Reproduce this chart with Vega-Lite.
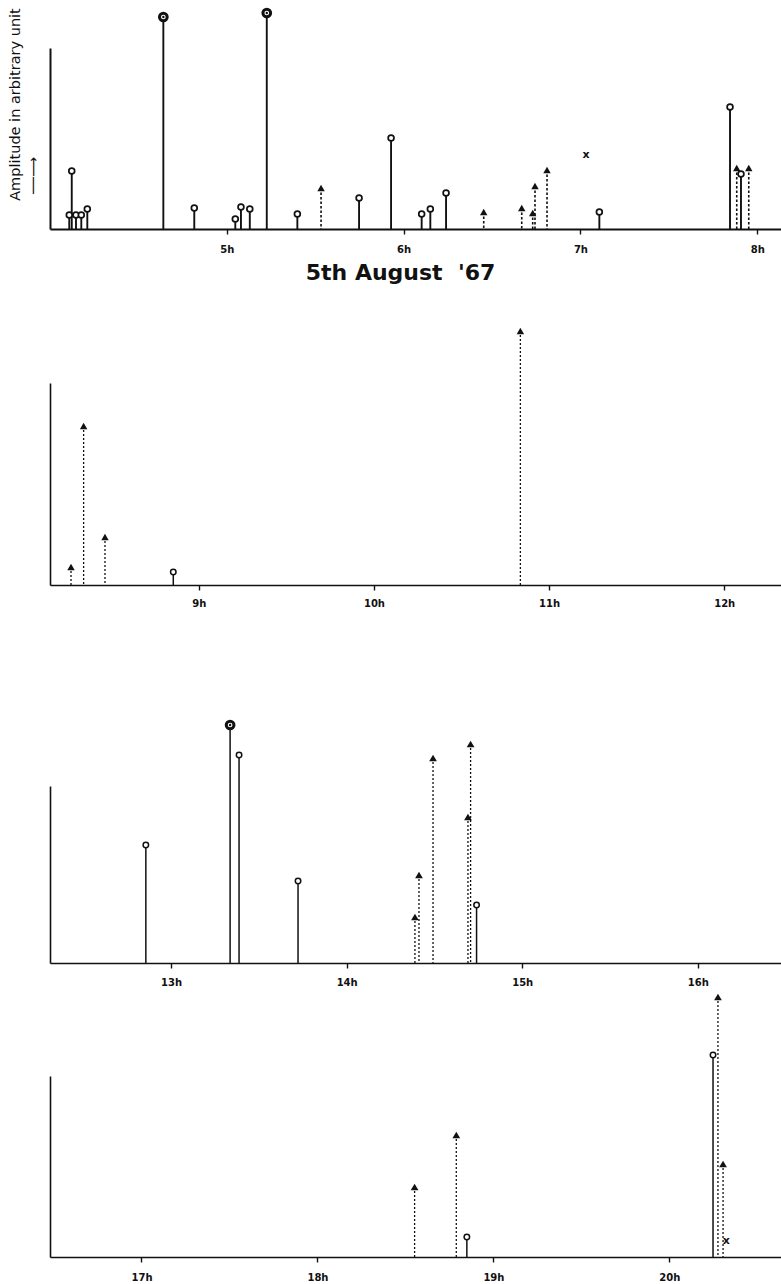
{
  "$schema": "https://vega.github.io/schema/vega-lite/v6.json",
  "background": "white",
  "padding": {"left": 6, "top": 3, "right": 0, "bottom": 0},
  "spacing": 30,
  "bounds": "flush",
  "config": {
    "view": {"stroke": null},
    "axis": {"domainColor": "#111", "tickColor": "#111", "labelColor": "#111", "titleColor": "#111", "grid": false, "domainWidth": 1.6, "tickWidth": 1.4, "tickSize": 5, "labelFont": "DejaVu Sans", "labelFontWeight": "bold", "labelFontSize": 10, "labelFlush": false, "labelOverlap": false}
  },
  "data": {"values": [
    {"panel": 1, "hour": 4.109, "amp": 14, "kind": "o"},
    {"panel": 1, "hour": 4.123, "amp": 58, "kind": "o"},
    {"panel": 1, "hour": 4.147, "amp": 14, "kind": "o"},
    {"panel": 1, "hour": 4.177, "amp": 14, "kind": "o"},
    {"panel": 1, "hour": 4.211, "amp": 20, "kind": "o"},
    {"panel": 1, "hour": 4.641, "amp": 212, "kind": "b"},
    {"panel": 1, "hour": 4.816, "amp": 21, "kind": "o"},
    {"panel": 1, "hour": 5.048, "amp": 10, "kind": "o"},
    {"panel": 1, "hour": 5.080, "amp": 22, "kind": "o"},
    {"panel": 1, "hour": 5.130, "amp": 20, "kind": "o"},
    {"panel": 1, "hour": 5.226, "amp": 216, "kind": "b"},
    {"panel": 1, "hour": 5.399, "amp": 15, "kind": "o"},
    {"panel": 1, "hour": 5.533, "amp": 41, "kind": "t"},
    {"panel": 1, "hour": 5.748, "amp": 31, "kind": "o"},
    {"panel": 1, "hour": 5.929, "amp": 91, "kind": "o"},
    {"panel": 1, "hour": 6.102, "amp": 15, "kind": "o"},
    {"panel": 1, "hour": 6.151, "amp": 20, "kind": "o"},
    {"panel": 1, "hour": 6.240, "amp": 36, "kind": "o"},
    {"panel": 1, "hour": 6.453, "amp": 17, "kind": "t"},
    {"panel": 1, "hour": 6.668, "amp": 21, "kind": "t"},
    {"panel": 1, "hour": 6.730, "amp": 16, "kind": "t"},
    {"panel": 1, "hour": 6.743, "amp": 43, "kind": "t"},
    {"panel": 1, "hour": 6.811, "amp": 59, "kind": "t"},
    {"panel": 1, "hour": 7.032, "amp": 74, "kind": "x"},
    {"panel": 1, "hour": 7.107, "amp": 17, "kind": "o"},
    {"panel": 1, "hour": 7.846, "amp": 122, "kind": "o"},
    {"panel": 1, "hour": 7.884, "amp": 61, "kind": "t"},
    {"panel": 1, "hour": 7.908, "amp": 55, "kind": "o"},
    {"panel": 1, "hour": 7.952, "amp": 61, "kind": "t"},
    {"panel": 2, "hour": 8.270, "amp": 18, "kind": "t"},
    {"panel": 2, "hour": 8.342, "amp": 159, "kind": "t"},
    {"panel": 2, "hour": 8.464, "amp": 48, "kind": "t"},
    {"panel": 2, "hour": 8.854, "amp": 13, "kind": "o"},
    {"panel": 2, "hour": 10.836, "amp": 254, "kind": "t"},
    {"panel": 3, "hour": 12.856, "amp": 118, "kind": "o"},
    {"panel": 3, "hour": 13.336, "amp": 238, "kind": "b"},
    {"panel": 3, "hour": 13.387, "amp": 208, "kind": "o"},
    {"panel": 3, "hour": 13.723, "amp": 82, "kind": "o"},
    {"panel": 3, "hour": 14.389, "amp": 46, "kind": "t"},
    {"panel": 3, "hour": 14.412, "amp": 88, "kind": "t"},
    {"panel": 3, "hour": 14.492, "amp": 205, "kind": "t"},
    {"panel": 3, "hour": 14.691, "amp": 146, "kind": "t"},
    {"panel": 3, "hour": 14.706, "amp": 219, "kind": "t"},
    {"panel": 3, "hour": 14.740, "amp": 58, "kind": "o"},
    {"panel": 4, "hour": 18.552, "amp": 70, "kind": "t"},
    {"panel": 4, "hour": 18.789, "amp": 122, "kind": "t"},
    {"panel": 4, "hour": 18.849, "amp": 20, "kind": "o"},
    {"panel": 4, "hour": 20.248, "amp": 202, "kind": "o"},
    {"panel": 4, "hour": 20.276, "amp": 260, "kind": "t"},
    {"panel": 4, "hour": 20.305, "amp": 93, "kind": "t"},
    {"panel": 4, "hour": 20.324, "amp": 16, "kind": "x"}
  ]},
  "vconcat": [
    {
      "width": 732, "height": 221,
      "transform": [{"filter": "datum.panel == 1"}],
      "encoding": {
        "x": {"field": "hour", "type": "quantitative", "scale": {"domain": [4, 8.14], "nice": false, "zero": false},
          "axis": {"values": [5, 6, 7, 8], "labelExpr": "datum.value + 'h'", "labelPadding": 10, "domainWidth": 2, "title": "5th August\u00a0\u00a0'67", "titleFont": "DejaVu Sans", "titleFontWeight": "bold", "titleFontSize": 22, "titleX": 350, "titleY": 50, "titleBaseline": "alphabetic", "titleAlign": "center"}},
        "y": {"field": "amp", "type": "quantitative", "scale": {"domain": [0, 181], "range": [221, 40], "nice": false, "zero": true},
          "axis": {"domain": true, "domainWidth": 2, "ticks": false, "labels": false, "grid": false,
            "title": "Amplitude in arbitrary unit",
            "titleFont": "DejaVu Sans", "titleFontWeight": "normal", "titleFontSize": 14.5, "titleX": -35, "titleY": 96, "titleBaseline": "middle", "titleAlign": "center", "titleAngle": 270}}
      },
      "layer": [
        {"layer": [
          {"transform": [{"filter": "datum.kind == 'o' || datum.kind == 'b'"}], "mark": {"type": "rule", "strokeWidth": 1.9, "color": "#111"}, "encoding": {"y2": {"datum": 0}}},
          {"transform": [{"filter": "datum.kind == 't'"}], "mark": {"type": "rule", "strokeWidth": 1.6, "strokeDash": [2.5, 2], "color": "#111"}, "encoding": {"y2": {"datum": 0}}},
          {"transform": [{"filter": "datum.kind == 'o'"}], "mark": {"type": "point", "shape": "circle", "filled": true, "fill": "white", "stroke": "#111", "strokeWidth": 1.7, "size": 34, "opacity": 1}},
          {"transform": [{"filter": "datum.kind == 'b'"}], "mark": {"type": "point", "shape": "circle", "filled": true, "fill": "white", "stroke": "#111", "strokeWidth": 3, "size": 60, "opacity": 1}},
          {"transform": [{"filter": "datum.kind == 'b'"}], "mark": {"type": "point", "shape": "circle", "filled": true, "fill": "#111", "size": 6, "opacity": 1}},
          {"transform": [{"filter": "datum.kind == 't'"}], "mark": {"type": "point", "shape": "triangle-up", "filled": true, "fill": "#111", "size": 55, "opacity": 1}},
          {"transform": [{"filter": "datum.kind == 'x'"}], "mark": {"type": "text", "text": "x", "fontWeight": "bold", "fontSize": 11, "font": "DejaVu Sans", "baseline": "middle", "fill": "#111"}}
        ]},
        {"transform": [{"filter": "false"}], "mark": {"type": "point", "opacity": 0},
          "encoding": {"y": {"field": "amp", "type": "quantitative", "scale": {"domain": [0, 181], "range": [221, 40], "nice": false, "zero": true},
            "axis": {"orient": "left", "domain": false, "ticks": false, "labels": false, "grid": false, "offset": 0,
              "title": "\u2500\u2500\u27f6", "titleFont": "DejaVu Sans", "titleFontWeight": "normal", "titleFontSize": 14, "titleX": -17, "titleY": 167, "titleBaseline": "middle", "titleAlign": "center", "titleAngle": 270}}}}
      ],
      "resolve": {"axis": {"y": "independent"}}
    },
    {
      "width": 732, "height": 326,
      "transform": [{"filter": "datum.panel == 2"}],
      "encoding": {
        "x": {"field": "hour", "type": "quantitative", "scale": {"domain": [8.15, 12.33], "nice": false, "zero": false},
          "axis": {"values": [9, 10, 11, 12], "labelExpr": "datum.value + 'h'", "labelPadding": 8, "title": null}},
        "y": {"field": "amp", "type": "quantitative", "scale": {"domain": [0, 202], "range": [326, 124], "nice": false, "zero": true},
          "axis": {"domain": true, "ticks": false, "labels": false, "grid": false, "title": null}}
      },
      "layer": [
        {"transform": [{"filter": "datum.kind == 'o' || datum.kind == 'b'"}], "mark": {"type": "rule", "strokeWidth": 1.5, "color": "#111"}, "encoding": {"y2": {"datum": 0}}},
        {"transform": [{"filter": "datum.kind == 't'"}], "mark": {"type": "rule", "strokeWidth": 1.3, "strokeDash": [2, 2], "color": "#111"}, "encoding": {"y2": {"datum": 0}}},
        {"transform": [{"filter": "datum.kind == 'o'"}], "mark": {"type": "point", "shape": "circle", "filled": true, "fill": "white", "stroke": "#111", "strokeWidth": 1.5, "size": 30, "opacity": 1}},
        {"transform": [{"filter": "datum.kind == 't'"}], "mark": {"type": "point", "shape": "triangle-up", "filled": true, "fill": "#111", "size": 55, "opacity": 1}}
      ]
    },
    {
      "width": 732, "height": 348,
      "transform": [{"filter": "datum.panel == 3"}],
      "encoding": {
        "x": {"field": "hour", "type": "quantitative", "scale": {"domain": [12.31, 16.48], "nice": false, "zero": false},
          "axis": {"values": [13, 14, 15, 16], "labelExpr": "datum.value + 'h'", "labelPadding": 9, "title": null}},
        "y": {"field": "amp", "type": "quantitative", "scale": {"domain": [0, 177], "range": [348, 171], "nice": false, "zero": true},
          "axis": {"domain": true, "ticks": false, "labels": false, "grid": false, "title": null}}
      },
      "layer": [
        {"transform": [{"filter": "datum.kind == 'o' || datum.kind == 'b'"}], "mark": {"type": "rule", "strokeWidth": 1.5, "color": "#111"}, "encoding": {"y2": {"datum": 0}}},
        {"transform": [{"filter": "datum.kind == 't'"}], "mark": {"type": "rule", "strokeWidth": 1.3, "strokeDash": [2, 2], "color": "#111"}, "encoding": {"y2": {"datum": 0}}},
        {"transform": [{"filter": "datum.kind == 'o'"}], "mark": {"type": "point", "shape": "circle", "filled": true, "fill": "white", "stroke": "#111", "strokeWidth": 1.5, "size": 30, "opacity": 1}},
        {"transform": [{"filter": "datum.kind == 'b'"}], "mark": {"type": "point", "shape": "circle", "filled": true, "fill": "white", "stroke": "#111", "strokeWidth": 3, "size": 60, "opacity": 1}},
        {"transform": [{"filter": "datum.kind == 'b'"}], "mark": {"type": "point", "shape": "circle", "filled": true, "fill": "#111", "size": 6, "opacity": 1}},
        {"transform": [{"filter": "datum.kind == 't'"}], "mark": {"type": "point", "shape": "triangle-up", "filled": true, "fill": "#111", "size": 60, "opacity": 1}}
      ]
    },
    {
      "width": 732, "height": 264,
      "transform": [{"filter": "datum.panel == 4"}],
      "encoding": {
        "x": {"field": "hour", "type": "quantitative", "scale": {"domain": [16.48, 20.64], "nice": false, "zero": false},
          "axis": {"values": [17, 18, 19, 20], "labelExpr": "datum.value + 'h'", "labelPadding": 10, "title": null}},
        "y": {"field": "amp", "type": "quantitative", "scale": {"domain": [0, 181], "range": [264, 83], "nice": false, "zero": true},
          "axis": {"domain": true, "ticks": false, "labels": false, "grid": false, "title": null}}
      },
      "layer": [
        {"transform": [{"filter": "datum.kind == 'o' || datum.kind == 'b'"}], "mark": {"type": "rule", "strokeWidth": 1.5, "color": "#111"}, "encoding": {"y2": {"datum": 0}}},
        {"transform": [{"filter": "datum.kind == 't'"}], "mark": {"type": "rule", "strokeWidth": 1.3, "strokeDash": [2, 2], "color": "#111"}, "encoding": {"y2": {"datum": 0}}},
        {"transform": [{"filter": "datum.kind == 'o'"}], "mark": {"type": "point", "shape": "circle", "filled": true, "fill": "white", "stroke": "#111", "strokeWidth": 1.5, "size": 30, "opacity": 1}},
        {"transform": [{"filter": "datum.kind == 't'"}], "mark": {"type": "point", "shape": "triangle-up", "filled": true, "fill": "#111", "size": 60, "opacity": 1}},
        {"transform": [{"filter": "datum.kind == 'x'"}], "mark": {"type": "text", "text": "x", "fontWeight": "bold", "fontSize": 11, "font": "DejaVu Sans", "baseline": "middle", "fill": "#111"}}
      ]
    }
  ]
}
